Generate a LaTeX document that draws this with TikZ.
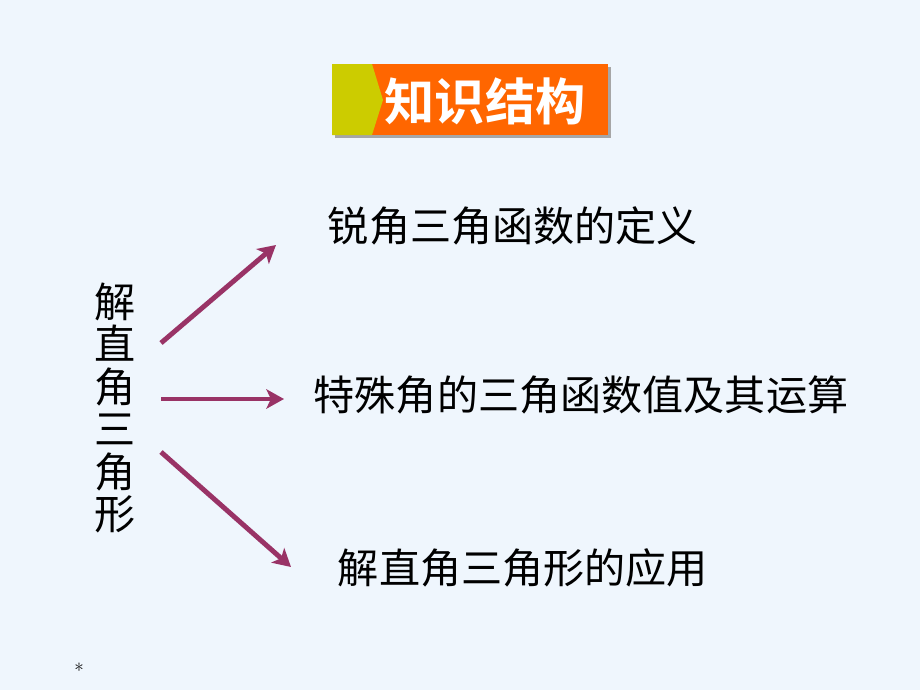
\documentclass[tikz,border=0pt]{standalone}
\usepackage{fontspec}
\newfontfamily\cjk{Noto Sans CJK SC}
\newfontfamily\cjkb{Noto Sans CJK SC Bold}
\usetikzlibrary{arrows.meta}
\definecolor{bg}{HTML}{EFF6FD}
\definecolor{arr}{HTML}{993366}
\definecolor{tyel}{HTML}{CCCC00}
\definecolor{torg}{HTML}{FF6600}
\begin{document}
\begin{tikzpicture}[x=0.02cm,y=-0.02cm,
  lbl/.style={inner sep=0pt,font=\cjk\fontsize{23.4pt}{26pt}\selectfont,text=black},
  conn/.style={draw=arr,line width=2.8pt,-{Stealth[length=10pt,width=11pt,inset=2.5pt]}}]
\fill[bg] (0,0) rectangle (920,690);
\useasboundingbox (0,0) rectangle (920,690);
% title box
\fill[gray!70] (335,67) rectangle (611,138);
\fill[torg] (332,64) rectangle (608,135);
\fill[tyel] (332,64) -- (372,64) -- (383,100) -- (372,135) -- (332,135) -- cycle;
\node (title) at (485,101) [inner sep=0pt,text=white,font=\cjkb\fontsize{28.6pt}{32pt}\selectfont] {知识结构};
% labels
\node[lbl] (def) at (513,226) {锐角三角函数的定义};
\node[lbl] (spec) at (581,395) {特殊角的三角函数值及其运算};
\node[lbl] (app) at (523,568) {解直角三角形的应用};
\node[lbl,align=center,font=\cjk\fontsize{23.4pt}{24.2pt}\selectfont] (main) at (115,408) {解\\直\\角\\三\\角\\形};
% arrows
\coordinate (s1) at (161,343);
\coordinate (e1) at (276,245);
\coordinate (s2) at (161,399);
\coordinate (e2) at (284,399);
\coordinate (s3) at (161,452);
\coordinate (e3) at (291,567);
\draw[conn] (s1) -- (e1);
\draw[conn] (s2) -- (e2);
\draw[conn] (s3) -- (e3);
\node (star) at (79,670) [inner sep=0pt,font=\fontsize{11pt}{12pt}\selectfont,text=black] {*};
\end{tikzpicture}
\end{document}
